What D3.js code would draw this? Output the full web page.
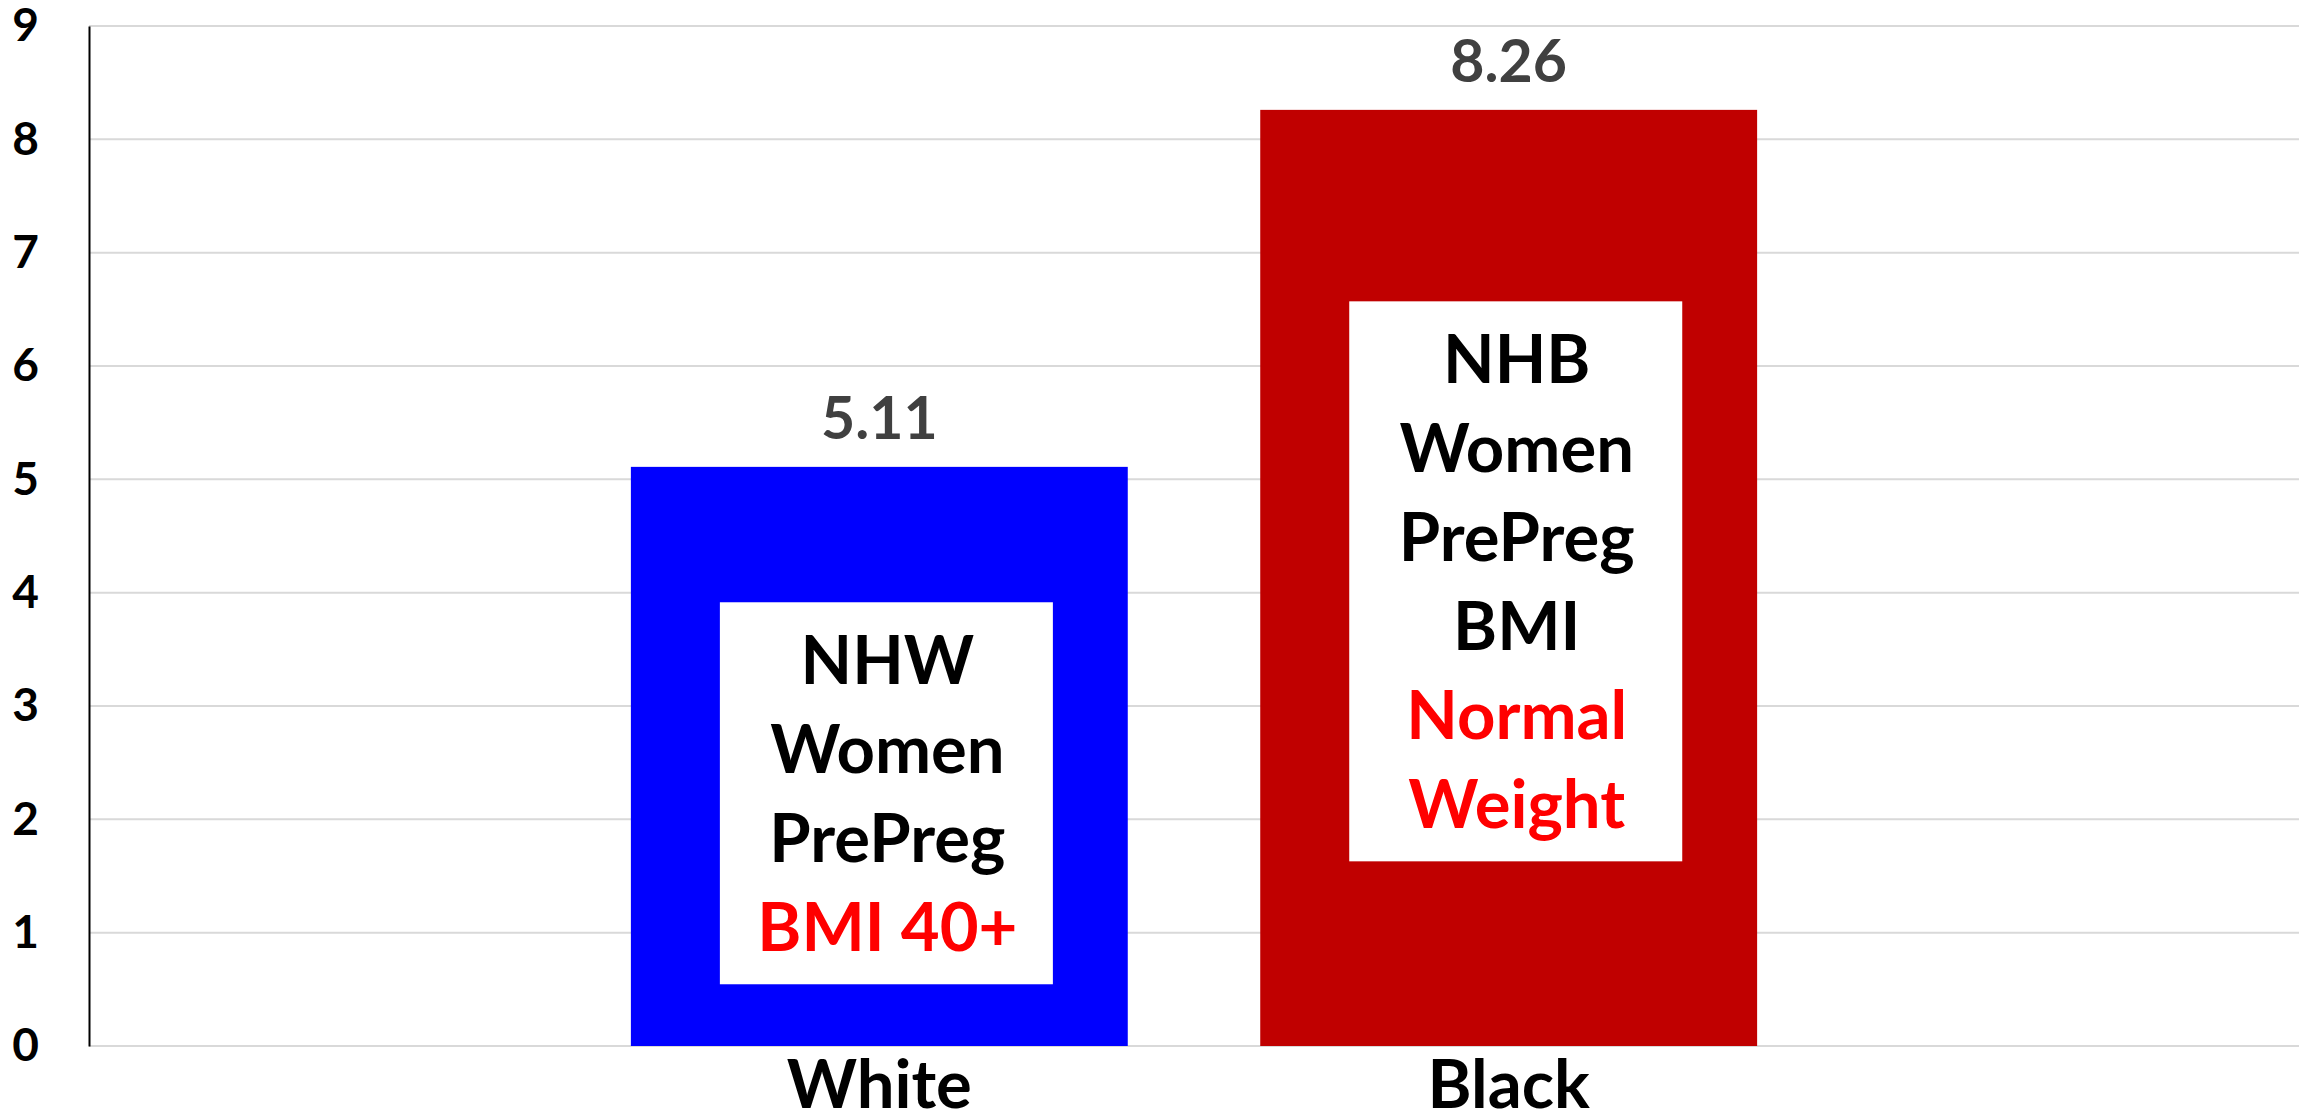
<!DOCTYPE html>
<html>
<head>
<meta charset="utf-8">
<script src="https://cdn.jsdelivr.net/npm/d3@7"></script>
<style>
  body { margin: 0; background: #fff; }
  text { font-family: Lato, "Open Sans", sans-serif; font-weight: bold; }
</style>
</head>
<body>
<div id="wrapper"></div>
<script>
// chart data
const groups = ["White", "Black"];
const values = [5.11, 8.26];
const barColors = ["#0000FF", "#C00000"];
const yTicks = [0, 1, 2, 3, 4, 5, 6, 7, 8, 9];

// text inside the bars
const noteLines = [
  ["NHW", "Women", "PrePreg", "BMI 40+"],
  ["NHB", "Women", "PrePreg", "BMI", "Normal", "Weight"]
];
const noteRed = [
  [false, false, false, true],
  [false, false, false, false, true, true]
];
const noteMid = [2.23, 4.1];

const W = 2310, H = 1119;
const plotL = 89, plotR = 2299, plotT = 26, plotB = 1046;

var svg = d3.select("#wrapper").append("svg").attr("width", W).attr("height", H);

var x = d3.scaleBand().domain(groups).range([plotL, plotR])
  .paddingInner(0.2105).paddingOuter(0.861);
var y = d3.scaleLinear().domain([0, 9]).range([plotB, plotT]);

// gridlines
svg.append("g").selectAll("line").data(yTicks).enter().append("line")
  .attr("x1", plotL).attr("x2", plotR)
  .attr("y1", d => y(d)).attr("y2", d => y(d))
  .style("stroke", "#D9D9D9").style("stroke-width", 2);

// y axis
var yAxis = svg.append("g").attr("transform", "translate(" + plotL + ",0)")
  .call(d3.axisLeft(y).tickValues(yTicks).tickSize(0).tickPadding(50).tickFormat(d3.format("d")));
yAxis.select(".domain").style("stroke", "#000").style("stroke-width", 2);
yAxis.selectAll("text").style("font-size", "46px").style("fill", "#000")
  .style("font-family", "Lato, sans-serif").style("font-weight", "bold");

// bars
svg.selectAll(".bar").data(values).enter().append("rect")
  .attr("class", "bar")
  .attr("x", (d, i) => x(groups[i]))
  .attr("width", x.bandwidth())
  .attr("y", d => y(d))
  .attr("height", d => y(0) - y(d))
  .style("fill", (d, i) => barColors[i]);

// value labels
svg.selectAll(".val").data(values).enter().append("text")
  .attr("class", "val")
  .attr("x", (d, i) => x(groups[i]) + x.bandwidth() / 2)
  .attr("y", d => y(d) - 28)
  .attr("text-anchor", "middle")
  .style("font-size", "59px").style("fill", "#404040")
  .text(d => d.toFixed(2));

// category labels
svg.selectAll(".cat").data(groups).enter().append("text")
  .attr("class", "cat")
  .attr("x", d => x(d) + x.bandwidth() / 2)
  .attr("y", 1108)
  .attr("text-anchor", "middle")
  .style("font-size", "67px").style("fill", "#000")
  .text(d => d);

// white note boxes
const lineH = 89;
noteLines.forEach(function(lines, i) {
  var cy = y(noteMid[i]);
  var boxH = lines.length * lineH + 26;
  var bx = x(groups[i]) + 89;
  svg.append("rect")
    .attr("x", bx).attr("y", cy - boxH / 2)
    .attr("width", 333).attr("height", boxH)
    .style("fill", "#fff");
  var firstBase = cy - (lines.length - 1) * lineH / 2 + 24;
  svg.append("g").selectAll("text").data(lines).enter().append("text")
    .attr("x", bx + 333 / 2 + 1)
    .attr("y", (d, j) => firstBase + j * lineH)
    .attr("text-anchor", "middle")
    .style("font-size", "67px")
    .style("fill", (d, j) => noteRed[i][j] ? "#FF0000" : "#000")
    .text(d => d);
});
</script>
</body>
</html>
